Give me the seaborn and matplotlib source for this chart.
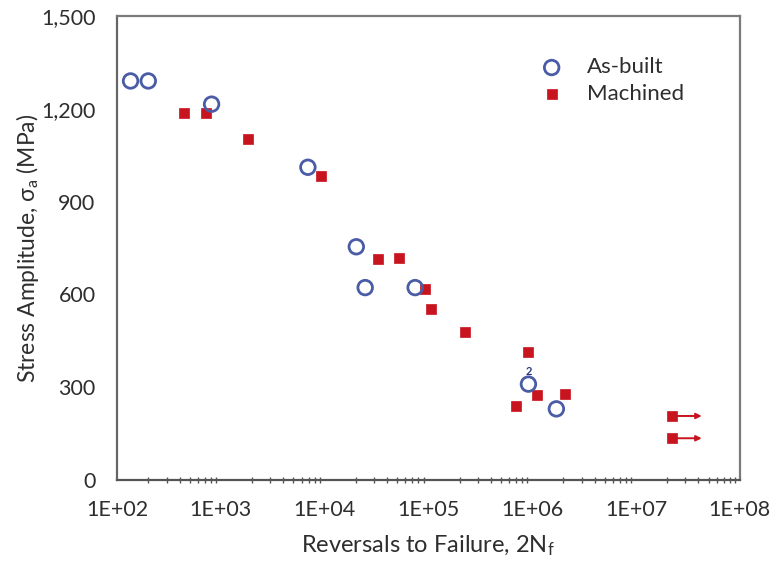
import numpy as np
import pandas as pd
import matplotlib
matplotlib.use("Agg")
import matplotlib.pyplot as plt
from matplotlib.ticker import FixedLocator, FuncFormatter, LogLocator, NullFormatter
import seaborn as sns

# Fatigue data: reversals to failure vs stress amplitude
asbuilt_reversals = [135, 200, 815, 6900, 20200, 24600, 74500, 920000, 1.71e6]
asbuilt_stress = [1290, 1290, 1215, 1011, 754, 622, 622, 310, 230]

machined_reversals = [441, 718, 1845, 9200, 32600, 52600, 92000, 107000, 227000,
                      910000, 1.11e6, 697000, 2.06e6, 2.23e7, 2.23e7]
machined_stress = [1186, 1186, 1101, 984, 713, 719, 619, 552, 480,
                   413, 275, 239, 277, 207, 135]

# Run-out specimens (did not fail) and where their arrows end
runout_reversals = [2.23e7, 2.23e7]
runout_stress = [207, 135]
runout_arrow_end = 4.3e7

# Annotation: two coincident as-built results
dup_label = "2"
dup_reversals = 920000
dup_stress = 310

series_labels = ["As-built", "Machined"]
y_ticks = [0, 300, 600, 900, 1200, 1500]
x_decades = [1e2, 1e3, 1e4, 1e5, 1e6, 1e7, 1e8]

blue = "#4a5ca6"
red = "#c8141e"
text_col = "#2e2e2e"
spine_col = "#7a7a7a"

sns.set_theme(style="white")
plt.rcParams["font.family"] = ["Lato", "DejaVu Sans"]
plt.rcParams["mathtext.fontset"] = "custom"
plt.rcParams["mathtext.rm"] = "Lato"
plt.rcParams["mathtext.it"] = "Lato"

fig = plt.figure(figsize=(7.73, 5.67), dpi=100)
ax = fig.add_axes([0.1514, 0.1534, 0.8056, 0.8184])

df_ab = pd.DataFrame({"N": asbuilt_reversals, "S": asbuilt_stress})
df_m = pd.DataFrame({"N": machined_reversals, "S": machined_stress})

sns.scatterplot(data=df_ab, x="N", y="S", ax=ax, marker="o", s=110,
                facecolor="none", edgecolor=blue, linewidth=2.0,
                label=series_labels[0], zorder=3)
sns.scatterplot(data=df_m, x="N", y="S", ax=ax, marker="s", s=62,
                color=red, edgecolor=red, linewidth=0.5,
                label=series_labels[1], zorder=2)

# Run-out arrows
for n, s in zip(runout_reversals, runout_stress):
    ax.annotate("", xy=(runout_arrow_end, s), xytext=(n, s),
                arrowprops=dict(arrowstyle="-|>", color=red, lw=1.4,
                                mutation_scale=8, shrinkA=0, shrinkB=0),
                zorder=1)

ax.text(dup_reversals, dup_stress + 22, dup_label, color="#2a3a80",
        fontsize=8, fontweight="bold", ha="center", va="bottom")

ax.set_xscale("log")
ax.set_xlim(1e2, 1e8)
ax.set_ylim(0, 1500)

ax.xaxis.set_major_locator(FixedLocator(x_decades))
ax.xaxis.set_minor_locator(LogLocator(base=10, subs=np.arange(2, 10)))
ax.xaxis.set_minor_formatter(NullFormatter())
ax.xaxis.set_major_formatter(FuncFormatter(lambda v, p: f"1E+{int(round(np.log10(v))):02d}"))
ax.yaxis.set_major_locator(FixedLocator(y_ticks))
ax.yaxis.set_major_formatter(FuncFormatter(lambda v, p: f"{int(v):,}"))

ax.tick_params(axis="both", which="major", direction="inout", length=9, width=1.3,
               color="#555555", labelsize=15.5, labelcolor=text_col, pad=6)
ax.tick_params(axis="x", which="minor", direction="inout", length=4, width=1.0,
               color="#555555", bottom=True)
ax.tick_params(axis="x", which="major", pad=10)
ax.tick_params(axis="y", which="major", pad=11)

for side in ["left", "bottom", "top", "right"]:
    ax.spines[side].set_visible(True)
    ax.spines[side].set_color(spine_col)
    ax.spines[side].set_linewidth(1.6)
ax.spines["bottom"].set_color("#555555")
ax.spines["left"].set_color("#666666")

ax.set_xlabel("Reversals to Failure, 2N$_\\mathrm{f}$", fontsize=17, color=text_col, labelpad=10)
ax.set_ylabel("Stress Amplitude, σ$_\\mathrm{a}$ (MPa)", fontsize=16.5, color=text_col, labelpad=0)

leg = ax.legend(loc="upper left", bbox_to_anchor=(0.648, 0.93), frameon=False,
                fontsize=16, handletextpad=0.6, labelspacing=0.3, borderaxespad=0)
for t in leg.get_texts():
    t.set_color(text_col)

fig.savefig("out.png", dpi=100)
